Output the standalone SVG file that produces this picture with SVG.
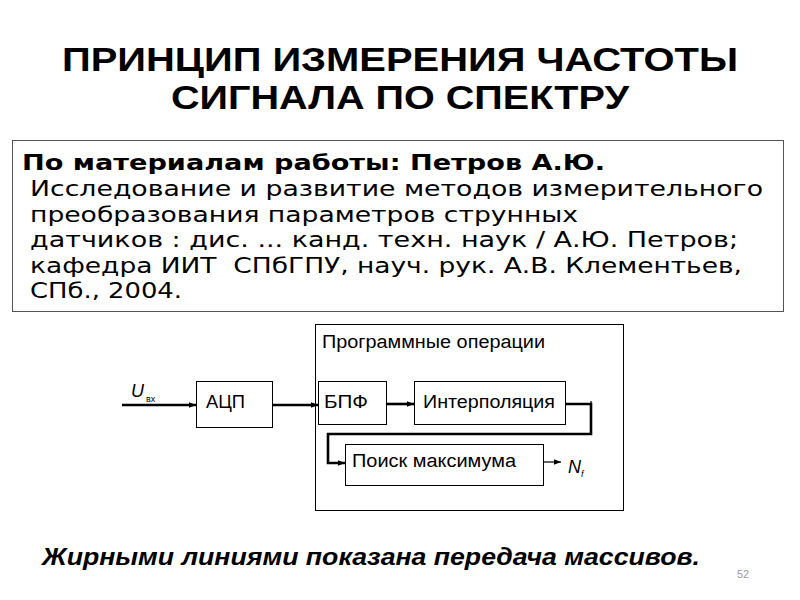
<svg xmlns="http://www.w3.org/2000/svg" width="800" height="600" viewBox="0 0 800 600">
<defs>
<style>
.title{font-family:"Liberation Sans Narrow","Liberation Sans",Arial,sans-serif;font-weight:bold;font-size:34px;fill:#000}
.ref{font-family:"DejaVu Sans Condensed","DejaVu Sans",sans-serif;font-size:21px;fill:#000}
.refb{font-family:"DejaVu Sans Condensed","DejaVu Sans",sans-serif;font-size:21px;font-weight:bold;fill:#000}
.lbl{font-family:"Liberation Sans",Arial,sans-serif;font-size:18px;fill:#000}
.box{fill:#fff;stroke:#000;stroke-width:1}
.thin{fill:none;stroke:#000;stroke-width:1.2}
.thick{fill:none;stroke:#000;stroke-width:2.6}
.cap{font-family:"Liberation Sans Narrow","Liberation Sans",Arial,sans-serif;font-size:24px;font-weight:bold;font-style:italic;fill:#000}
.sym{font-family:"Liberation Sans",Arial,sans-serif;fill:#000}
</style>
<marker id="ah" viewBox="0 0 10 10" refX="10" refY="5" markerWidth="7" markerHeight="7" markerUnits="userSpaceOnUse" orient="auto">
<path d="M0,1 L10,5 L0,9 z" fill="#000"/>
</marker>
</defs>
<rect width="800" height="600" fill="#fff"/>
<g id="title">
<text class="title" x="400" y="71" text-anchor="middle" textLength="676" lengthAdjust="spacingAndGlyphs">ПРИНЦИП ИЗМЕРЕНИЯ ЧАСТОТЫ</text>
<text class="title" x="400" y="109" text-anchor="middle" textLength="458" lengthAdjust="spacingAndGlyphs">СИГНАЛА ПО СПЕКТРУ</text>
</g>
<g id="reference">
<rect x="12.5" y="140.5" width="771" height="171" fill="#fff" stroke="#555" stroke-width="1"/>
<text class="refb" x="22" y="170" textLength="583" lengthAdjust="spacingAndGlyphs">По материалам работы: Петров А.Ю.</text>
<text class="ref" x="30" y="196" textLength="733" lengthAdjust="spacingAndGlyphs">Исследование и развитие методов измерительного</text>
<text class="ref" x="30" y="222" textLength="548" lengthAdjust="spacingAndGlyphs">преобразования параметров струнных</text>
<text class="ref" x="30" y="247" textLength="708" lengthAdjust="spacingAndGlyphs">датчиков : дис. ... канд. техн. наук / А.Ю. Петров;</text>
<text class="ref" x="30" y="273" textLength="712" lengthAdjust="spacingAndGlyphs">кафедра ИИТ&#160; СПбГПУ, науч. рук. А.В. Клементьев,</text>
<text class="ref" x="30" y="298" textLength="152" lengthAdjust="spacingAndGlyphs">СПб., 2004.</text>
</g>
<g id="prog">
<rect class="box" x="315.5" y="324.5" width="308" height="186"/>
<text class="lbl" x="322" y="348" textLength="223" lengthAdjust="spacingAndGlyphs">Программные операции</text>
</g>
<g id="adc">
<rect class="box" x="196.5" y="381.5" width="76" height="46"/>
<text class="lbl" x="206" y="408" textLength="39" lengthAdjust="spacingAndGlyphs">АЦП</text>
</g>
<g id="fft">
<rect class="box" x="318.5" y="381.5" width="68" height="43"/>
<text class="lbl" x="324" y="408" textLength="44" lengthAdjust="spacingAndGlyphs">БПФ</text>
</g>
<g id="interp">
<rect class="box" x="414.5" y="381.5" width="151" height="43"/>
<text class="lbl" x="423" y="408" textLength="132" lengthAdjust="spacingAndGlyphs">Интерполяция</text>
</g>
<g id="max">
<rect class="box" x="345.5" y="444.5" width="198" height="41"/>
<text class="lbl" x="352" y="467" textLength="164" lengthAdjust="spacingAndGlyphs">Поиск максимума</text>
</g>
<g id="labels">
<text class="sym" x="131" y="397" font-size="18" font-style="italic">U</text>
<text class="sym" x="146" y="402" font-size="9">вх</text>
<text class="sym" x="568" y="473" font-size="18" font-style="italic">N</text>
<text class="sym" x="581" y="477" font-size="9" font-style="italic">f</text>
</g>
<g id="connectors">
<line class="thick" x1="122" y1="405" x2="196" y2="405" marker-end="url(#ah)"/>
<line class="thick" x1="272" y1="405" x2="318" y2="405" marker-end="url(#ah)"/>
<line class="thick" x1="386" y1="404" x2="414" y2="404" marker-end="url(#ah)"/>
<polyline class="thick" points="565,404 591,404 591,434 328,434 328,463 345,463" marker-end="url(#ah)"/>
<line class="thin" x1="591" y1="401" x2="591" y2="405"/>
<line class="thin" x1="543" y1="462" x2="561" y2="462" marker-end="url(#ah)"/>
</g>
<g id="caption">
<text class="cap" x="42" y="565" textLength="658" lengthAdjust="spacingAndGlyphs">Жирными линиями показана передача массивов.</text>
<text x="737" y="578" font-family="Liberation Sans, Arial, sans-serif" font-size="11" fill="#999">52</text>
</g>
</svg>
